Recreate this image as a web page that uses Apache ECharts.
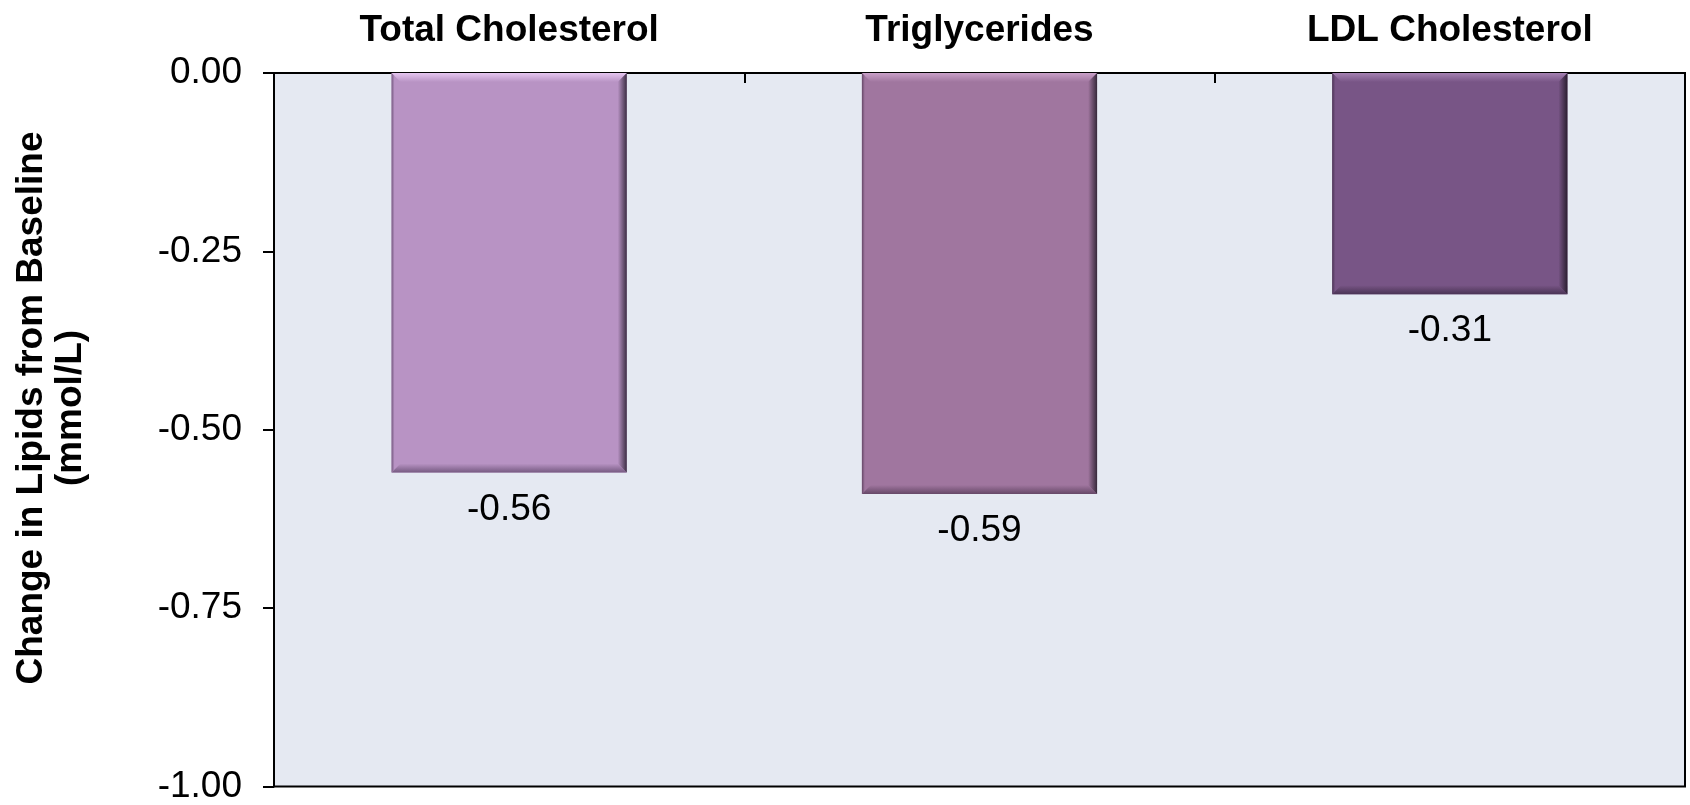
<!DOCTYPE html>
<html>
<head>
<meta charset="utf-8">
<script src="https://cdn.jsdelivr.net/npm/echarts@6/dist/echarts.min.js"></script>
<style>
html,body{margin:0;padding:0;background:#fff;}
#chart{width:1690px;height:805px;}
</style>
</head>
<body>
<div id="chart"></div>
<script>
const categories = ['Total Cholesterol', 'Triglycerides', 'LDL Cholesterol'];
const values = [-0.56, -0.59, -0.31];
const yTicks = [0, -0.25, -0.5, -0.75, -1];
const yTitleLines = ['Change in Lipids from Baseline', '(mmol/L)'];

const palette = [
  {base:'#B893C4', light:'#E6C6F0', dark:'#3C2E44', low:'#765A81'},
  {base:'#A0769F', light:'#C9A0C8', dark:'#36283A', low:'#664868'},
  {base:'#785586', light:'#A581B2', dark:'#2A1E30', low:'#4B3455'}
];
const FONT = 'Arial, "Liberation Sans", Helvetica, sans-serif';

const chart = echarts.init(document.getElementById('chart'), null, {renderer:'canvas'});

function renderItem(params, api) {
  const idx = api.value(0);
  const v = api.value(1);
  const p0 = api.coord([idx, 0]);
  const p1 = api.coord([idx, v]);
  const bw = api.size([1, 0])[0] * 0.5;
  const x0 = p0[0] - bw / 2, x1 = p0[0] + bw / 2;
  const y0 = Math.min(p0[1], p1[1]), y1 = Math.max(p0[1], p1[1]);
  const b = 9;
  const c = palette[idx % palette.length];
  const lg = (x, y, x2, y2, stops) => new echarts.graphic.LinearGradient(x, y, x2, y2, stops);
  return {
    type: 'group',
    children: [
      {type:'rect', shape:{x:x0, y:y0, width:x1-x0, height:y1-y0}, style:{fill:c.base}},
      {type:'polygon', shape:{points:[[x0,y0],[x1,y0],[x1-b,y0+b],[x0+b,y0+b]]},
        style:{fill: lg(0,0,0,1,[{offset:0,color:c.light},{offset:1,color:c.base}])}},
      {type:'polygon', shape:{points:[[x0,y0],[x0+3,y0+3],[x0+3,y1-3],[x0,y1]]},
        style:{fill: lg(0,0,1,0,[{offset:0,color:c.low},{offset:1,color:c.base}])}},
      {type:'polygon', shape:{points:[[x0,y1],[x1,y1],[x1-b,y1-b],[x0+b,y1-b]]},
        style:{fill: lg(0,0,0,1,[{offset:0,color:c.base},{offset:1,color:c.low}])}},
      {type:'polygon', shape:{points:[[x1,y0],[x1,y1],[x1-b,y1-b],[x1-b,y0+b]]},
        style:{fill: lg(0,0,1,0,[{offset:0,color:c.base},{offset:1,color:c.dark}])}},
      {type:'text', x:(x0+x1)/2, y:y1+37,
        style:{text:v.toFixed(2), fill:'#000', fontSize:37, fontFamily:FONT, align:'center', verticalAlign:'middle'}}
    ]
  };
}

chart.setOption({
  animation: false,
  backgroundColor: '#ffffff',
  grid: {left:274, right:5, top:73, bottom:17, show:true, backgroundColor:'#E5E9F2',
    borderColor:'#000', borderWidth:2, containLabel:false},
  xAxis: {
    type:'category', data:categories, position:'top',
    axisLine:{show:true, onZero:false, lineStyle:{color:'#000', width:2}},
    axisTick:{show:true, inside:true, length:10, lineStyle:{color:'#000', width:2}},
    axisLabel:{show:true, margin:24, color:'#000', fontSize:37, fontWeight:'bold', fontFamily:FONT},
    splitLine:{show:false}
  },
  yAxis: {
    type:'value', min:-1, max:0, interval:0.25,
    axisLine:{show:true, lineStyle:{color:'#000', width:2}},
    axisTick:{show:true, inside:false, length:11, lineStyle:{color:'#000', width:2}},
    axisLabel:{margin:32, color:'#000', fontSize:37, fontFamily:FONT,
      formatter: v => { const t = yTicks.find(k => Math.abs(k - v) < 1e-9); return (t === undefined ? v : t).toFixed(2); }},
    splitLine:{show:false}
  },
  graphic: [{
    type:'text', x:51, y:408, rotation:Math.PI/2,
    style:{text:yTitleLines.join('\n'), fill:'#000', fontSize:37, fontWeight:'bold', fontFamily:FONT,
      align:'center', verticalAlign:'middle', lineHeight:39}
  }],
  series: [{
    type:'custom',
    renderItem: renderItem,
    data: values.map((v, i) => [i, v]),
    encode: {x:0, y:1},
    clip: false
  }]
});
</script>
</body>
</html>
